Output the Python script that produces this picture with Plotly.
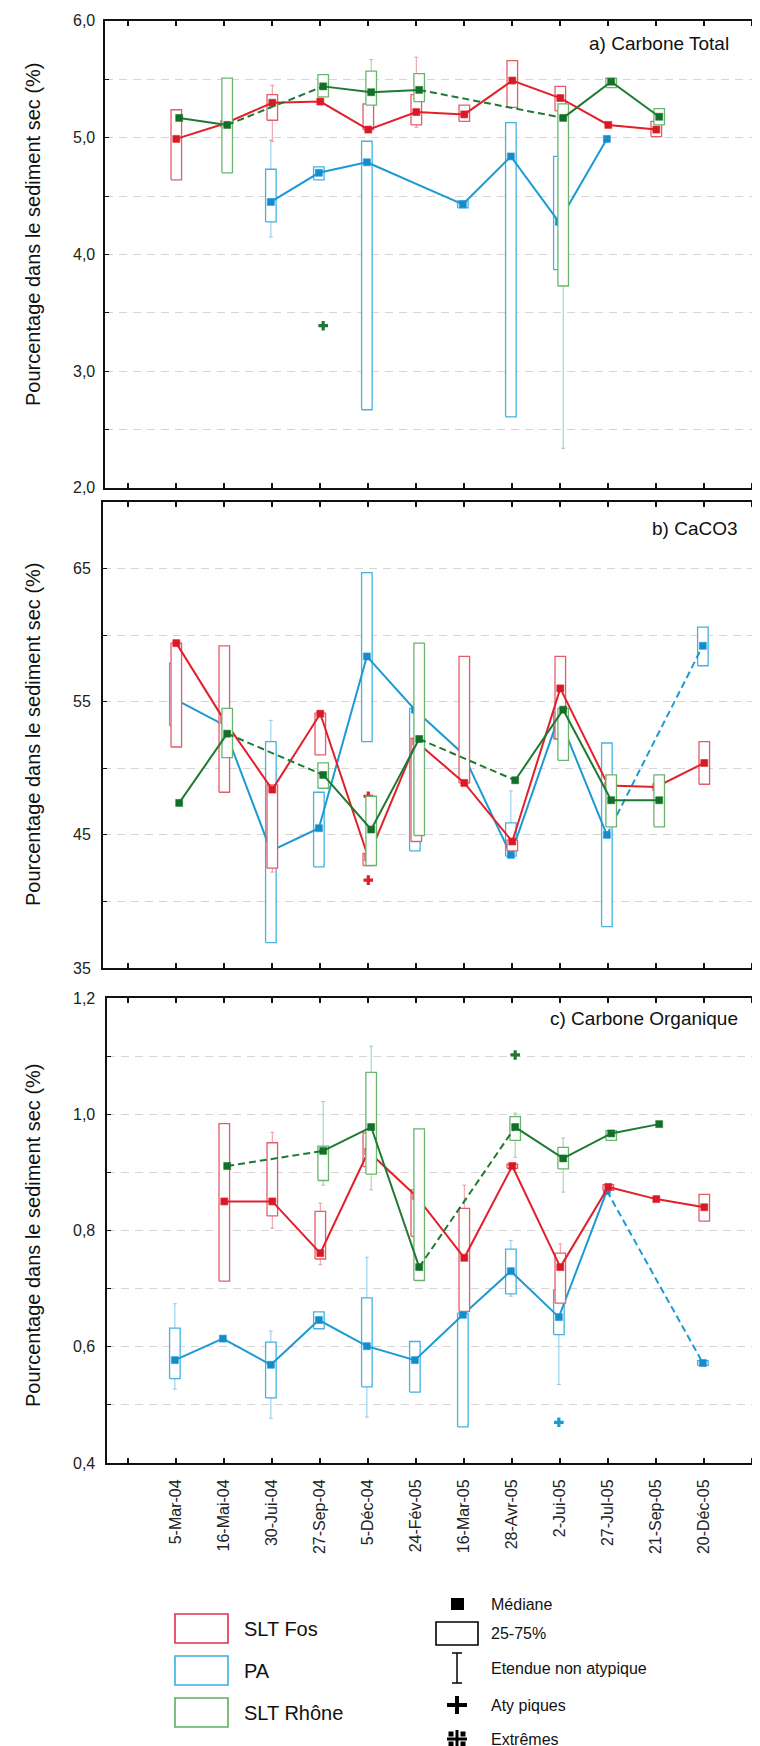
import plotly.graph_objects as go

W, H = 760, 1746
N = None

DATES = ["5-Mar-04", "16-Mai-04", "30-Jui-04", "27-Sep-04", "5-Déc-04", "24-Fév-05",
         "16-Mar-05", "28-Avr-05", "2-Jui-05", "27-Jul-05", "21-Sep-05", "20-Déc-05"]
SERIES = ["PA", "SLT Fos", "SLT Rhône"]          # drawing order (Rhône on top)
PANEL_TITLES = ["a) Carbone Total", "b) CaCO3", "c) Carbone Organique"]
Y_TITLE = "Pourcentage dans le sediment sec (%)"

# ---------------- a) Carbone Total ----------------
A_PA_MED = [N, N, 4.45, 4.70, 4.79, N, 4.43, 4.84, 4.28, 4.99, N, N]
A_PA_Q1 = [N, N, 4.28, 4.64, 2.67, N, 4.40, 2.61, 3.87, N, N, N]
A_PA_Q3 = [N, N, 4.73, 4.75, 4.97, N, 4.46, 5.13, 4.84, N, N, N]
A_PA_LO = [N, N, 4.15, N, N, N, N, N, N, N, N, N]
A_PA_HI = [N, N, 4.98, N, N, N, N, N, N, N, N, N]
A_PA_OUT_D, A_PA_OUT_V = [], []

A_FOS_MED = [4.99, 5.12, 5.30, 5.31, 5.07, 5.22, 5.20, 5.49, 5.34, 5.11, 5.07, N]
A_FOS_Q1 = [4.64, N, 5.15, N, 5.07, 5.11, 5.14, 5.26, 5.23, N, 5.01, N]
A_FOS_Q3 = [5.24, N, 5.37, N, 5.29, 5.37, 5.28, 5.66, 5.44, N, 5.14, N]
A_FOS_LO = [N, N, 4.97, N, N, 5.09, N, N, N, N, N, N]
A_FOS_HI = [N, N, 5.45, N, N, 5.69, N, N, N, N, N, N]
A_FOS_OUT_D, A_FOS_OUT_V = [], []

A_RHO_MED = [5.17, 5.11, N, 5.44, 5.39, 5.41, N, N, 5.17, 5.48, 5.18, N]
A_RHO_Q1 = [N, 4.70, N, 5.35, 5.28, 5.31, N, N, 3.73, 5.43, 5.11, N]
A_RHO_Q3 = [N, 5.51, N, 5.54, 5.57, 5.55, N, N, 5.29, 5.51, 5.25, N]
A_RHO_LO = [N, N, N, N, N, N, N, N, 2.34, N, N, N]
A_RHO_HI = [N, N, N, N, 5.67, N, N, N, N, N, N, N]
A_RHO_OUT_D, A_RHO_OUT_V = ["27-Sep-04"], [3.39]

# ---------------- b) CaCO3 ----------------
B_PA_MED = [55.2, 53.3, 43.8, 45.5, 58.4, 54.4, 51.1, 43.5, 53.9, 45.0, N, 59.2]
B_PA_Q1 = [53.2, N, 36.9, 42.6, 52.0, 43.8, N, 43.4, 52.2, 38.1, N, 57.7]
B_PA_Q3 = [57.9, N, 52.0, 48.2, 64.7, 54.5, N, 45.9, 54.2, 51.9, N, 60.6]
B_PA_LO = [N] * 12
B_PA_HI = [N, N, 53.6, N, N, N, N, 48.3, N, N, N, N]
B_PA_OUT_D, B_PA_OUT_V = [], []

B_FOS_MED = [59.4, 53.6, 48.4, 54.1, 43.3, 52.0, 48.9, 44.5, 56.0, 48.7, 48.6, 50.4]
B_FOS_Q1 = [51.6, 48.2, 42.5, 51.0, 42.7, 44.5, 48.9, 43.8, 52.2, N, N, 48.8]
B_FOS_Q3 = [59.4, 59.2, 48.75, 54.15, 43.6, 52.25, 58.4, 44.6, 58.4, N, N, 52.0]
B_FOS_LO = [N, N, 42.2, N, N, N, N, N, N, N, N, N]
B_FOS_HI = [N] * 12
B_FOS_OUT_D, B_FOS_OUT_V = ["5-Déc-04", "5-Déc-04"], [47.9, 41.6]

B_RHO_MED = [47.4, 52.6, N, 49.5, 45.4, 52.2, N, 49.1, 54.4, 47.6, 47.6, N]
B_RHO_Q1 = [N, 50.8, N, 48.5, 42.7, 44.95, N, N, 50.6, 45.6, 45.6, N]
B_RHO_Q3 = [N, 54.5, N, 50.4, 47.9, 59.4, N, N, 54.5, 49.5, 49.5, N]
B_RHO_LO = [N] * 12
B_RHO_HI = [N] * 12
B_RHO_OUT_D, B_RHO_OUT_V = [], []

# ---------------- c) Carbone Organique ----------------
C_PA_MED = [0.577, 0.614, 0.569, 0.646, 0.601, 0.577, 0.655, 0.730, 0.651, 0.868, N, 0.572]
C_PA_Q1 = [0.545, N, 0.512, 0.631, 0.531, 0.522, 0.462, 0.691, 0.621, N, N, 0.568]
C_PA_Q3 = [0.632, N, 0.608, 0.660, 0.684, 0.609, 0.658, 0.768, 0.698, N, N, 0.576]
C_PA_LO = [0.527, N, 0.477, N, 0.479, N, N, 0.687, 0.535, N, N, N]
C_PA_HI = [0.674, N, 0.627, N, 0.754, N, N, 0.783, N, N, N, N]
C_PA_OUT_D, C_PA_OUT_V = ["2-Jui-05"], [0.470]

C_FOS_MED = [N, 0.850, 0.850, 0.761, 0.936, 0.859, 0.753, 0.911, 0.737, 0.875, 0.854, 0.840]
C_FOS_Q1 = [N, 0.713, 0.825, 0.751, 0.910, 0.790, 0.661, 0.907, 0.675, 0.869, N, 0.816]
C_FOS_Q3 = [N, 0.984, 0.951, 0.833, 0.968, 0.870, 0.838, 0.914, 0.761, 0.879, N, 0.862]
C_FOS_LO = [N, N, 0.804, 0.741, N, N, N, N, N, N, N, N]
C_FOS_HI = [N, N, 0.969, 0.847, N, N, 0.878, N, 0.777, N, N, N]
C_FOS_OUT_D, C_FOS_OUT_V = [], []

C_RHO_MED = [N, 0.911, N, 0.937, 0.978, 0.737, N, 0.978, 0.924, 0.967, 0.983, N]
C_RHO_Q1 = [N, N, N, 0.886, 0.897, 0.714, N, 0.955, 0.906, 0.955, N, N]
C_RHO_Q3 = [N, N, N, 0.945, 1.072, 0.975, N, 0.996, 0.943, 0.972, N, N]
C_RHO_LO = [N, N, N, 0.878, 0.870, N, N, 0.926, 0.866, N, N, N]
C_RHO_HI = [N, N, N, 1.022, 1.117, N, N, 1.002, 0.959, N, N, N]
C_RHO_OUT_D, C_RHO_OUT_V = ["28-Avr-05"], [1.102]

# axis ticks
A_TICKS = [2.0, 2.5, 3.0, 3.5, 4.0, 4.5, 5.0, 5.5, 6.0]
A_LABELS = ["2,0", "", "3,0", "", "4,0", "", "5,0", "", "6,0"]
B_TICKS = [35, 40, 45, 50, 55, 60, 65, 70]
B_LABELS = ["35", "", "45", "", "55", "", "65", ""]
C_TICKS = [0.4, 0.5, 0.6, 0.7, 0.8, 0.9, 1.0, 1.1, 1.2]
C_LABELS = ["0,4", "", "0,6", "", "0,8", "", "1,0", "", "1,2"]

DATA = {
    "a": {"PA": (A_PA_MED, A_PA_Q1, A_PA_Q3, A_PA_LO, A_PA_HI, A_PA_OUT_D, A_PA_OUT_V),
          "SLT Fos": (A_FOS_MED, A_FOS_Q1, A_FOS_Q3, A_FOS_LO, A_FOS_HI, A_FOS_OUT_D, A_FOS_OUT_V),
          "SLT Rhône": (A_RHO_MED, A_RHO_Q1, A_RHO_Q3, A_RHO_LO, A_RHO_HI, A_RHO_OUT_D, A_RHO_OUT_V)},
    "b": {"PA": (B_PA_MED, B_PA_Q1, B_PA_Q3, B_PA_LO, B_PA_HI, B_PA_OUT_D, B_PA_OUT_V),
          "SLT Fos": (B_FOS_MED, B_FOS_Q1, B_FOS_Q3, B_FOS_LO, B_FOS_HI, B_FOS_OUT_D, B_FOS_OUT_V),
          "SLT Rhône": (B_RHO_MED, B_RHO_Q1, B_RHO_Q3, B_RHO_LO, B_RHO_HI, B_RHO_OUT_D, B_RHO_OUT_V)},
    "c": {"PA": (C_PA_MED, C_PA_Q1, C_PA_Q3, C_PA_LO, C_PA_HI, C_PA_OUT_D, C_PA_OUT_V),
          "SLT Fos": (C_FOS_MED, C_FOS_Q1, C_FOS_Q3, C_FOS_LO, C_FOS_HI, C_FOS_OUT_D, C_FOS_OUT_V),
          "SLT Rhône": (C_RHO_MED, C_RHO_Q1, C_RHO_Q3, C_RHO_LO, C_RHO_HI, C_RHO_OUT_D, C_RHO_OUT_V)},
}
SOLID_GAPS = {("a", "PA")}

# ---------------- styles ----------------
COL = {
    "SLT Fos": dict(line="#e2202c", mark="#d81a26", box="#e45c68", wh="#eb98a0"),
    "PA": dict(line="#1c9ad6", mark="#168bcb", box="#45b1e2", wh="#8ccae9"),
    "SLT Rhône": dict(line="#1d7a32", mark="#146e2a", box="#6bb46d", wh="#9dcf9d"),
}
OFFSET = {"PA": -0.03, "SLT Fos": 0.0, "SLT Rhône": 0.06}
BOXW = 0.22
CAPW = 0.08
FONT = "Liberation Sans, Arial, sans-serif"

# pixel layout of the three panels: (top, bottom, left)
PANEL_PX = {"a": (13, 480, 97), "b": (494, 960, 95), "c": (990, 1455, 99)}
TICK0_PX, TICK_STEP_PX = 120.3, 48.0
PANEL_Y = {"a": ([2, 6], A_TICKS, A_LABELS), "b": ([35, 70], B_TICKS, B_LABELS),
           "c": ([0.4, 1.2], C_TICKS, C_LABELS)}
TITLE_PX = {"a": (723, 35), "b": (732, 520), "c": (732, 1010)}
YTITLE_PX = {"a": 226, "b": 726, "c": 1227}
YLABEL_LEFT_PX = 63


def pxx(p):
    return p / W


def pyy(p):
    return 1 - p / H


fig = go.Figure()

for pi, pk in enumerate(["a", "b", "c"]):
    xa = "x" if pi == 0 else f"x{pi + 1}"
    ya = "y" if pi == 0 else f"y{pi + 1}"
    for s in SERIES:
        med, q1, q3, lo, hi, od, ov = DATA[pk][s]
        c = COL[s]
        xs = [i + 1 + OFFSET[s] for i in range(len(DATES))]
        # whiskers
        wx, wy = [], []
        for i, x in enumerate(xs):
            if hi[i] is not None:
                base = q3[i] if q3[i] is not None else med[i]
                wx += [x, x, None, x - CAPW / 2, x + CAPW / 2, None]
                wy += [base, hi[i], None, hi[i], hi[i], None]
            if lo[i] is not None:
                base = q1[i] if q1[i] is not None else med[i]
                wx += [x, x, None, x - CAPW / 2, x + CAPW / 2, None]
                wy += [base, lo[i], None, lo[i], lo[i], None]
        if wx:
            fig.add_trace(go.Scatter(x=wx, y=wy, mode="lines", xaxis=xa, yaxis=ya,
                                     line=dict(color=c["wh"], width=1), hoverinfo="skip",
                                     showlegend=False))
        # boxes (25-75 %)
        bx, by = [], []
        for i, x in enumerate(xs):
            if q1[i] is not None and q3[i] is not None:
                l, r = x - BOXW / 2, x + BOXW / 2
                bx += [l, r, r, l, l, None]
                by += [q1[i], q1[i], q3[i], q3[i], q1[i], None]
        if bx:
            fig.add_trace(go.Scatter(x=bx, y=by, mode="lines", fill="toself",
                                     fillcolor="white", xaxis=xa, yaxis=ya,
                                     line=dict(color=c["box"], width=1.3),
                                     hoverinfo="skip", showlegend=False))
        # median line (solid where consecutive)
        fig.add_trace(go.Scatter(x=xs, y=med, mode="lines", connectgaps=False,
                                 xaxis=xa, yaxis=ya, line=dict(color=c["line"], width=2),
                                 hoverinfo="skip", showlegend=False))
        # links across missing dates
        idx = [i for i, v in enumerate(med) if v is not None]
        for i0, i1 in zip(idx, idx[1:]):
            if i1 > i0 + 1:
                dash = "solid" if (pk, s) in SOLID_GAPS else "7px,4px"
                fig.add_trace(go.Scatter(x=[xs[i0], xs[i1]], y=[med[i0], med[i1]],
                                         mode="lines", xaxis=xa, yaxis=ya,
                                         line=dict(color=c["line"], width=2, dash=dash),
                                         hoverinfo="skip", showlegend=False))
        # median squares
        fig.add_trace(go.Scatter(x=xs, y=med, mode="markers", xaxis=xa, yaxis=ya,
                                 marker=dict(symbol="square", size=7, color=c["mark"],
                                             line=dict(width=0.6, color=c["line"])),
                                 showlegend=False, name=s))
        # outliers
        if od:
            ox = [DATES.index(d) + 1 + OFFSET[s] for d in od]
            fig.add_trace(go.Scatter(x=ox, y=ov, mode="markers", xaxis=xa, yaxis=ya,
                                     marker=dict(symbol="cross", size=8, color=c["line"],
                                                 line=dict(width=0)),
                                     showlegend=False))

layout = dict(width=W, height=H, margin=dict(l=0, r=0, t=0, b=0),
              paper_bgcolor="white", plot_bgcolor="white", showlegend=False)

annotations = []
shapes = []
for pi, pk in enumerate(["a", "b", "c"]):
    top, bot, left = PANEL_PX[pk]
    yr, tv, tt = PANEL_Y[pk]
    xkey = "xaxis" if pi == 0 else f"xaxis{pi + 1}"
    ykey = "yaxis" if pi == 0 else f"yaxis{pi + 1}"
    xa = "x" if pi == 0 else f"x{pi + 1}"
    ya = "y" if pi == 0 else f"y{pi + 1}"
    layout[xkey] = dict(
        domain=[pxx(left), 1.0], anchor=ya,
        range=[(left - TICK0_PX) / TICK_STEP_PX, (W - TICK0_PX) / TICK_STEP_PX],
        tickmode="array", tickvals=list(range(len(DATES) + 2)),
        ticktext=[""] + DATES + [""], showticklabels=(pk == "c"), tickangle=-90,
        ticks="inside", ticklen=5, tickwidth=1.5, tickcolor="#111",
        showline=True, linewidth=2, linecolor="#111", mirror="ticks",
        showgrid=False, zeroline=False, ticklabelstandoff=8,
        tickfont=dict(family=FONT, size=16, color="#222"))
    span = yr[1] - yr[0]
    layout[ykey] = dict(
        domain=[pyy(bot), pyy(top)], anchor=xa,
        range=[yr[0] - span * 1e-5, yr[1] + span * 1e-5],
        tickmode="array", tickvals=tv, ticktext=tt, showticklabels=False,
        ticks="inside", ticklen=4, tickwidth=1.2, tickcolor="#111",
        showline=True, linewidth=2, linecolor="#111", mirror=False,
        showgrid=True, gridcolor="#d6d6d6", gridwidth=1, griddash="8px,6px",
        zeroline=False)
    # y tick labels (left-aligned as in the original)
    for v, t in zip(tv, tt):
        if t:
            annotations.append(dict(text=t, x=pxx(YLABEL_LEFT_PX), y=v, xref="paper", yref=ya,
                                    xanchor="left", yanchor="middle", showarrow=False,
                                    font=dict(family=FONT, size=16, color="#222")))
    tx, tyy = TITLE_PX[pk]
    annotations.append(dict(text=PANEL_TITLES[pi], x=pxx(tx), y=pyy(tyy), xref="paper",
                            yref="paper", xanchor="right", yanchor="middle",
                            showarrow=False, font=dict(family=FONT, size=19, color="#111")))
    annotations.append(dict(text=Y_TITLE, x=pxx(25), y=pyy(YTITLE_PX[pk]), xref="paper",
                            yref="paper", xanchor="center", yanchor="middle", textangle=-90,
                            showarrow=False, font=dict(family=FONT, size=20, color="#111")))

# ---------------- legend (bottom) ----------------
LEG_SERIES = ["SLT Fos", "PA", "SLT Rhône"]
LEG_COLS = ["#e0304a", "#3aaee6", "#5cae5f"]
LEG_TOPS = [1606, 1648, 1690]
for name, colr, t in zip(LEG_SERIES, LEG_COLS, LEG_TOPS):
    shapes.append(dict(type="rect", xref="paper", yref="paper", x0=pxx(167), x1=pxx(220),
                       y0=pyy(t + 29), y1=pyy(t), line=dict(color=colr, width=1.6),
                       fillcolor="white"))
    annotations.append(dict(text=name, x=pxx(234), y=pyy(t + 15), xref="paper", yref="paper",
                            xanchor="left", yanchor="middle", showarrow=False,
                            font=dict(family=FONT, size=20, color="#111")))

KEY_LABELS = ["Médiane", "25-75%", "Etendue non atypique", "Aty piques", "Extrêmes"]
KEY_Y = [1596, 1625, 1660, 1697, 1731]
for lab, yv in zip(KEY_LABELS, KEY_Y):
    annotations.append(dict(text=lab, x=pxx(481), y=pyy(yv), xref="paper", yref="paper",
                            xanchor="left", yanchor="middle", showarrow=False,
                            font=dict(family=FONT, size=16, color="#111")))
cx = 449
# median square
shapes.append(dict(type="rect", xref="paper", yref="paper", x0=pxx(443), x1=pxx(456),
                   y0=pyy(1602), y1=pyy(1590), line=dict(width=0), fillcolor="black"))
# box
shapes.append(dict(type="rect", xref="paper", yref="paper", x0=pxx(428), x1=pxx(470),
                   y0=pyy(1637), y1=pyy(1614), line=dict(color="black", width=1.6),
                   fillcolor="white"))
# whisker
for seg in [(cx, 1645, cx, 1675), (cx - 5, 1645, cx + 5, 1645), (cx - 5, 1675, cx + 5, 1675)]:
    shapes.append(dict(type="line", xref="paper", yref="paper", x0=pxx(seg[0]), y0=pyy(seg[1]),
                       x1=pxx(seg[2]), y1=pyy(seg[3]), line=dict(color="black", width=1.5)))
# outlier plus
for seg in [(cx - 10, 1697, cx + 10, 1697), (cx, 1688, cx, 1706)]:
    shapes.append(dict(type="line", xref="paper", yref="paper", x0=pxx(seg[0]), y0=pyy(seg[1]),
                       x1=pxx(seg[2]), y1=pyy(seg[3]), line=dict(color="black", width=4)))
# extreme symbol (plus with dots)
EY = 1731
for seg in [(cx - 10, EY, cx + 10, EY), (cx, EY - 9, cx, EY + 9)]:
    shapes.append(dict(type="line", xref="paper", yref="paper", x0=pxx(seg[0]), y0=pyy(seg[1]),
                       x1=pxx(seg[2]), y1=pyy(seg[3]), line=dict(color="black", width=3)))
for dx in (-6, 6):
    for dy in (-5, 5):
        shapes.append(dict(type="rect", xref="paper", yref="paper",
                           x0=pxx(cx + dx - 2.5), x1=pxx(cx + dx + 2.5),
                           y0=pyy(EY + dy + 2.5), y1=pyy(EY + dy - 2.5),
                           line=dict(width=0), fillcolor="black"))

layout["annotations"] = annotations
layout["shapes"] = shapes
fig.update_layout(**layout)
fig.write_html("out.html")
